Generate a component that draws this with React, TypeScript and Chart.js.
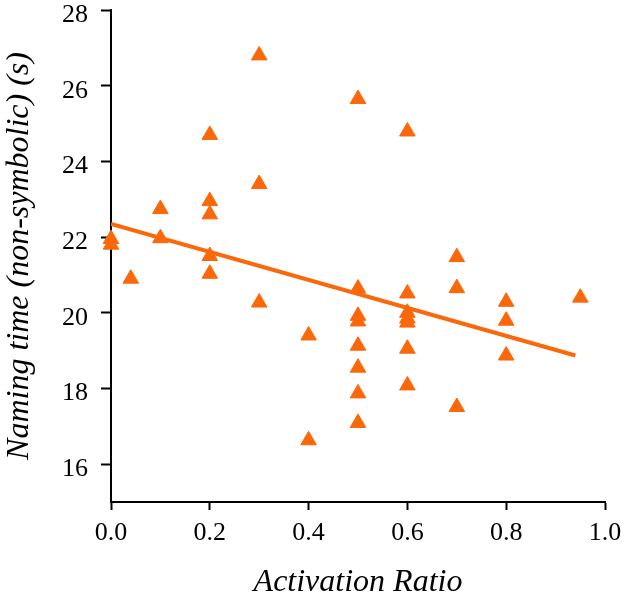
import React, { useEffect, useRef } from "react";
import { Chart, registerables } from "chart.js";

Chart.register(...registerables);

const activationRatio = [
  0, 0, 0.04, 0.1, 0.1, 0.2, 0.2, 0.2, 0.2, 0.2, 0.3, 0.3, 0.3, 0.4, 0.4,
  0.5, 0.5, 0.5, 0.5, 0.5, 0.5, 0.5, 0.5, 0.6, 0.6, 0.6, 0.6, 0.6, 0.6, 0.6,
  0.7, 0.7, 0.7, 0.8, 0.8, 0.8, 0.95,
];
const namingTime = [
  21.95, 21.8, 20.9, 22.74, 21.97, 24.7, 22.95, 22.6, 21.5, 21.03, 26.8, 23.4,
  20.27, 19.4, 16.63, 25.65, 20.64, 19.92, 19.77, 19.13, 18.55, 17.87, 17.09,
  24.79, 20.51, 20.0, 19.85, 19.74, 19.05, 18.08, 21.47, 20.65, 17.51, 20.29,
  19.79, 18.87, 20.4,
];
const fitX = [0, 0.94];
const fitY = [22.35, 18.87];
const xTicks = [0, 0.2, 0.4, 0.6, 0.8, 1.0];
const yTicks = [16, 18, 20, 22, 24, 26, 28];

const ORANGE = "rgb(250,104,10)";
const FAMILY = "'Liberation Serif', 'Times New Roman', serif";

export default function App() {
  const ref = useRef<HTMLCanvasElement | null>(null);
  useEffect(() => {
    let chart: Chart | null = null;
    let cancelled = false;
    const make = () => {
      if (cancelled || !ref.current) return;
      chart = new Chart(ref.current, {
        type: "scatter",
        data: {
          datasets: [
            {
              type: "line",
              data: fitX.map((x, i) => ({ x, y: fitY[i] })),
              borderColor: ORANGE,
              borderWidth: 4,
              pointRadius: 0,
              fill: false,
              order: 2,
            } as any,
            {
              data: activationRatio.map((x, i) => ({ x, y: namingTime[i] })),
              pointStyle: "triangle",
              pointRadius: 9,
              pointBackgroundColor: ORANGE,
              pointBorderColor: ORANGE,
              pointBorderWidth: 1,
              clip: false as any,
              order: 1,
            },
          ],
        },
        options: {
          animation: false,
          responsive: false,
          maintainAspectRatio: false,
          layout: { padding: { top: 8, right: 20, left: 0, bottom: 0 } },
          plugins: { legend: { display: false }, tooltip: { enabled: false } },
          scales: {
            x: {
              type: "linear",
              min: 0,
              max: 1,
              afterBuildTicks: (s: any) => {
                s.ticks = xTicks.map((v) => ({ value: v }));
              },
              afterFit: (s: any) => {
                s.height = 100;
                s.paddingLeft = 0;
                s.paddingRight = 0;
              },
              ticks: {
                color: "#000",
                font: { family: FAMILY, size: 26 },
                padding: 8,
                callback: (v: any) => Number(v).toFixed(1),
              },
              grid: {
                drawOnChartArea: false,
                tickLength: 8,
                tickColor: "#000",
                tickWidth: 2,
              },
              border: { color: "#000", width: 2 },
              title: {
                display: true,
                text: "Activation Ratio",
                color: "#000",
                font: { family: FAMILY, size: 32, style: "italic" },
                padding: { top: 0, bottom: 0 },
              },
            },
            y: {
              type: "linear",
              min: 15,
              max: 28,
              afterBuildTicks: (s: any) => {
                s.ticks = yTicks.map((v) => ({ value: v }));
              },
              afterFit: (s: any) => {
                s.width = 111;
                s.paddingTop = 0;
                s.paddingBottom = 0;
              },
              ticks: {
                color: "#000",
                font: { family: FAMILY, size: 26 },
                padding: 13,
                labelOffset: 5,
              },
              grid: {
                drawOnChartArea: false,
                tickLength: 10,
                tickColor: "#000",
                tickWidth: 2,
              },
              border: { color: "#000", width: 2 },
              title: {
                display: true,
                text: "Naming time (non-symbolic) (s)",
                color: "#000",
                font: { family: FAMILY, size: 32, style: "italic" },
                padding: { top: 0, bottom: 0 },
              },
            },
          },
        },
      });
    };
    const fonts = (document as any).fonts;
    if (fonts && fonts.load) {
      Promise.all([
        fonts.load("26px 'Liberation Serif'"),
        fonts.load("italic 32px 'Liberation Serif'"),
      ])
        .catch(() => {})
        .then(make);
    } else {
      make();
    }
    return () => {
      cancelled = true;
      if (chart) chart.destroy();
    };
  }, []);
  return (
    <div style={{ position: "absolute", left: 0, top: 0, width: 625, height: 602, background: "#fff" }}>
      <canvas ref={ref} width={625} height={602} style={{ width: 625, height: 602 }} />
    </div>
  );
}
